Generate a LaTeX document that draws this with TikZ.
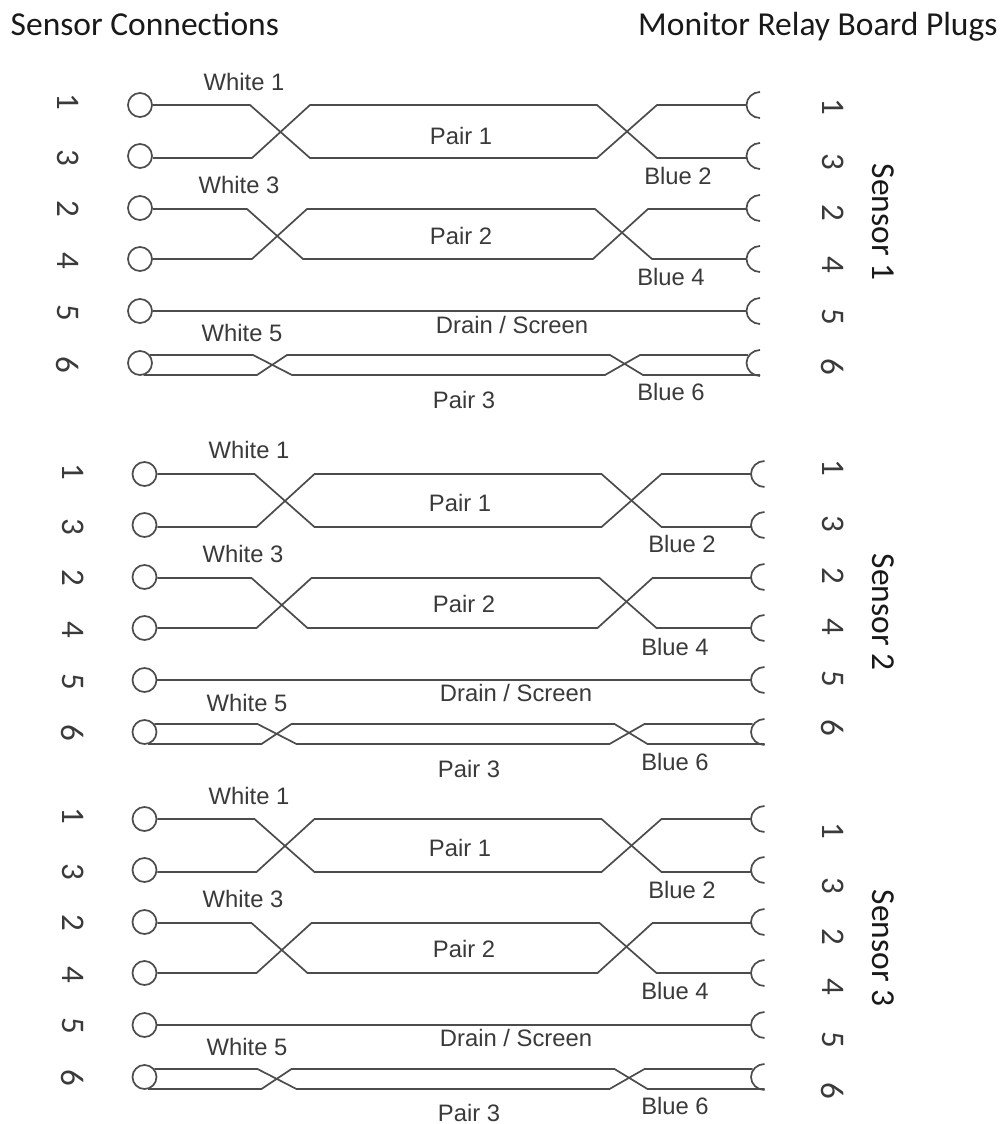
\documentclass[tikz,border=0pt]{standalone}
\usepackage{fontspec}
\setmainfont{Liberation Sans}
\newfontfamily\headfont{Carlito}
\usetikzlibrary{calc}
\definecolor{wirecol}{HTML}{4C4C4C}
\definecolor{labelcol}{HTML}{3A3A3A}
\tikzset{
  wire/.style={draw=wirecol,line width=1.7pt,line join=miter},
  pin/.style={circle,draw=wirecol,line width=1.7pt,minimum size=24pt,inner sep=0pt,fill=white},
  wl/.style={font=\fontsize{23.8}{25}\selectfont,text=labelcol,inner sep=0pt,anchor=center},
  num/.style={font=\headfont\fontsize{33}{35}\selectfont,text=labelcol,rotate=-90,inner sep=0pt,anchor=center},
  head/.style={font=\headfont\fontsize{33.5}{36}\selectfont,text=black!90,inner sep=0pt},
  side/.style={font=\headfont\fontsize{33.5}{36}\selectfont,text=black!90,rotate=-90,inner sep=0pt,anchor=center}
}
\newcommand{\plugcup}[1]{%
  \draw[wire] ($(#1)+(13.5,-13)$) .. controls ($(#1)+(6.3,-13)$) and ($(#1)+(0,-7.2)$) .. (#1)
     .. controls ($(#1)+(0,7.2)$) and ($(#1)+(6.3,13)$) .. ($(#1)+(13.5,13)$);}
\newcommand{\wireblock}[3]{%
 \begin{scope}[shift={(#2,#3)}]
  \node[pin] (#1L1) at (140,105) {};
  \node[pin] (#1L3) at (140,156) {};
  \node[pin] (#1L2) at (140,208) {};
  \node[pin] (#1L4) at (140,259) {};
  \node[pin] (#1L5) at (140,311) {};
  \node[pin] (#1L6) at (140,363) {};
  \coordinate (#1R1) at (746.5,105);
  \coordinate (#1R3) at (746.5,156);
  \coordinate (#1R2) at (746.5,208);
  \coordinate (#1R4) at (746.5,259);
  \coordinate (#1R5) at (746.5,311);
  \coordinate (#1R6) at (746.5,363);
  \plugcup{#1R1}\plugcup{#1R3}\plugcup{#1R2}\plugcup{#1R4}\plugcup{#1R5}\plugcup{#1R6}
  \draw[wire] (#1L1.east) -- (250,105) -- (310,158) -- (597,158) -- (657,105) -- ($(#1R1)$);
  \draw[wire] ($(#1L3.east)+(0,2)$) -- (252,158) -- (310,105) -- (597,105) -- (657,158) -- ($(#1R3)+(0,2)$);
  \draw[wire] ($(#1L2.east)+(0,1)$) -- (247,209) -- (303,259) -- (593,259) -- (648,209) -- ($(#1R2)+(0,1)$);
  \draw[wire] (#1L4.east) -- (252,259) -- (307,209) -- (595,209) -- (652,259) -- (#1R4);
  \draw[wire] (#1L5.east) -- (#1R5);
  \draw[wire] ($(#1L6.center)+(9.8,-8)$) -- (253,355) -- (292,375) -- (605,375) -- (640,355) -- ($(#1R6)+(1.5,-8)$);
  \draw[wire] ($(#1L6.center)+(3.5,12)$) -- (257,375) -- (287,355) -- (610,355) -- (643,375) -- ($(#1R6)+(13.5,12)$);
 \end{scope}}
\begin{document}
\begin{tikzpicture}[x=1pt,y=-1pt]
\path[use as bounding box,fill=white] (0,0) rectangle (1002,1124);
\node[head,anchor=base west] (h1) at (10.5,36) {Sensor Connections};
\node[head,anchor=base west] (h2) at (638,36) {Monitor Relay Board Plugs};
\wireblock{a}{0}{0}
\wireblock{b}{4.5}{369}
\wireblock{c}{4.5}{714}
% block 1 labels
\node[wl] (a1) at (244,82) {White 1};
\node[wl] (a2) at (239,185) {White 3};
\node[wl] (a3) at (242,333) {White 5};
\node[wl] (a4) at (678,176) {Blue 2};
\node[wl] (a5) at (671,277) {Blue 4};
\node[wl] (a6) at (671,392) {Blue 6};
\node[wl] (a7) at (461,136) {Pair 1};
\node[wl] (a8) at (461,236) {Pair 2};
\node[wl] (a9) at (512,325) {Drain / Screen};
\node[wl] (a10) at (464,400) {Pair 3};
% block 2 labels
\node[wl] (b1) at (249,450) {White 1};
\node[wl] (b2) at (243,554) {White 3};
\node[wl] (b3) at (247,703) {White 5};
\node[wl] (b4) at (682,544) {Blue 2};
\node[wl] (b5) at (675,647) {Blue 4};
\node[wl] (b6) at (675,762) {Blue 6};
\node[wl] (b7) at (460,503) {Pair 1};
\node[wl] (b8) at (464,604) {Pair 2};
\node[wl] (b9) at (516,693) {Drain / Screen};
\node[wl] (b10) at (469,769) {Pair 3};
% block 3 labels
\node[wl] (c1) at (249,796) {White 1};
\node[wl] (c2) at (243,899) {White 3};
\node[wl] (c3) at (247,1047) {White 5};
\node[wl] (c4) at (682,890) {Blue 2};
\node[wl] (c5) at (675,991) {Blue 4};
\node[wl] (c6) at (675,1106) {Blue 6};
\node[wl] (c7) at (460,848) {Pair 1};
\node[wl] (c8) at (464,949) {Pair 2};
\node[wl] (c9) at (516,1038) {Drain / Screen};
\node[wl] (c10) at (469,1113) {Pair 3};
% left numbers
\node[num] (n1) at (68,102) {1};\node[num] (n2) at (68,158) {3};\node[num] (n3) at (68,209) {2};
\node[num] (n4) at (68,261) {4};\node[num] (n5) at (68,313) {5};\node[num] (n6) at (68,365) {6};
\node[num] (n7) at (73,472) {1};\node[num] (n8) at (73,527) {3};\node[num] (n9) at (73,578) {2};
\node[num] (n10) at (73,630) {4};\node[num] (n11) at (73,682) {5};\node[num] (n12) at (73,733) {6};
\node[num] (n13) at (73,816) {1};\node[num] (n14) at (73,872) {3};\node[num] (n15) at (73,923) {2};
\node[num] (n16) at (73,975) {4};\node[num] (n17) at (73,1026) {5};\node[num] (n18) at (73,1078) {6};
% right numbers
\node[num] (m1) at (833,107) {1};\node[num] (m2) at (833,162) {3};\node[num] (m3) at (833,213) {2};
\node[num] (m4) at (833,265) {4};\node[num] (m5) at (833,317) {5};\node[num] (m6) at (833,367) {6};
\node[num] (m7) at (833,468) {1};\node[num] (m8) at (833,524) {3};\node[num] (m9) at (833,576) {2};
\node[num] (m10) at (833,627) {4};\node[num] (m11) at (833,679) {5};\node[num] (m12) at (833,728) {6};
\node[num] (m13) at (833,831) {1};\node[num] (m14) at (833,886) {3};\node[num] (m15) at (833,937) {2};
\node[num] (m16) at (833,987) {4};\node[num] (m17) at (833,1040) {5};\node[num] (m18) at (833,1091) {6};
% sensors
\node[side] (s1) at (883,222) {Sensor 1};
\node[side] (s2) at (883,612) {Sensor 2};
\node[side] (s3) at (883,948) {Sensor 3};
\end{tikzpicture}
\end{document}
